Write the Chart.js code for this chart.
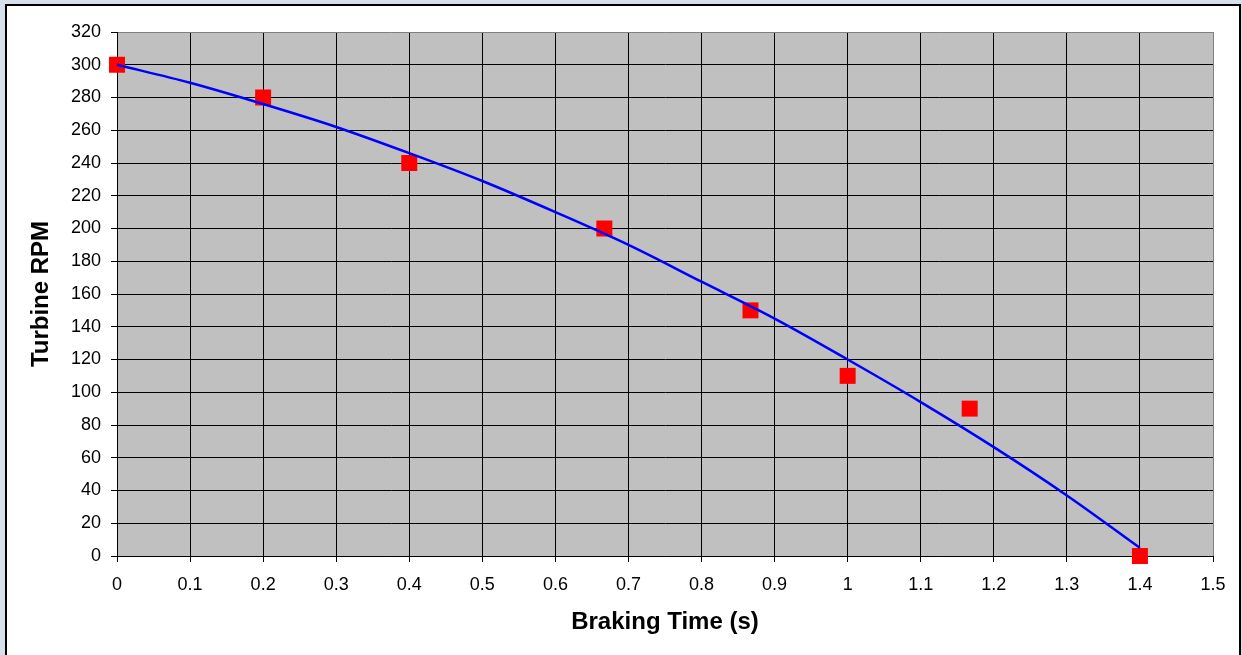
<!DOCTYPE html>
<html>
<head>
<meta charset="utf-8">
<title>Turbine RPM vs Braking Time</title>
<script src="https://cdn.jsdelivr.net/npm/chart.js@4/dist/chart.umd.min.js"></script>
<style>
  html, body { margin: 0; padding: 0; }
  body { width: 1242px; height: 655px; background: #d6dfec; position: relative; overflow: hidden; }
  #frame { position: absolute; left: 5px; top: 4px; width: 1232px; height: 700px; background: #fff; border: 2px solid #000; }
  #chart { position: absolute; left: 0; top: 0; }
</style>
</head>
<body>
<div id="frame"></div>
<canvas id="chart" width="1242" height="655"></canvas>
<script>
// trend line
const curveTime = [0, 0.1, 0.2, 0.3, 0.4, 0.5, 0.6, 0.7, 0.8, 0.9, 1.0, 1.1, 1.2, 1.3, 1.4];
const curveRpm  = [300, 289, 276, 262, 246, 229, 210, 190, 167.5, 145, 120, 94, 66.5, 37, 5];

// measured points (red squares)
const pointTime = [0, 0.2, 0.4, 0.667, 0.867, 1.0, 1.167, 1.4];
const pointRpm  = [300, 280, 240, 200, 150, 110, 90, 0];

const xTitle = "Braking Time (s)";
const yTitle = "Turbine RPM";

document.addEventListener("DOMContentLoaded", () => {
  const tickFont = { family: "'Liberation Sans', Arial, sans-serif", size: 18 };
  const titleFont = { family: "'Liberation Sans', Arial, sans-serif", size: 24, weight: 'bold' };

  // gray plot background
  const plotBg = {
    id: 'plotBg',
    beforeDraw(chart) {
      const a = chart.chartArea;
      const ctx = chart.ctx;
      ctx.save();
      ctx.fillStyle = '#C0C0C0';
      ctx.fillRect(a.left, a.top, a.right - a.left, a.bottom - a.top);
      ctx.restore();
    }
  };

  new Chart(document.getElementById('chart'), {
    type: 'scatter',
    data: {
      datasets: [
        {
          label: 'Curve',
          data: curveTime.map((t, i) => ({ x: t, y: curveRpm[i] })),
          showLine: true,
          borderColor: '#0000FF',
          borderWidth: 2.5,
          pointRadius: 0,
          cubicInterpolationMode: 'monotone',
          clip: false
        },
        {
          label: 'Measured',
          data: pointTime.map((t, i) => ({ x: t, y: pointRpm[i] })),
          showLine: false,
          pointStyle: 'rect',
          pointRadius: 11.3,
          pointBackgroundColor: '#FF0000',
          pointBorderColor: '#FF0000',
          pointBorderWidth: 0,
          clip: false
        }
      ]
    },
    options: {
      responsive: false,
      animation: false,
      layout: { padding: { left: 27, top: 32, right: 29, bottom: 18 } },
      plugins: {
        legend: { display: false },
        tooltip: { enabled: false }
      },
      scales: {
        x: {
          type: 'linear',
          min: 0,
          max: 1.5,
          afterFit: s => { s.height = 81; },
          ticks: {
            stepSize: 0.1,
            color: '#000',
            font: tickFont,
            padding: 12,
            maxRotation: 0,
            callback: v => Math.round(v * 10) / 10
          },
          grid: {
            color: c => (c.tick && Math.abs(c.tick.value - 1.5) < 1e-6) ? '#808080' : '#000',
            tickColor: '#000',
            tickLength: 6,
            lineWidth: 1
          },
          border: { color: '#000', width: 1 },
          title: { display: true, text: xTitle, color: '#000', font: titleFont, padding: 0 }
        },
        y: {
          min: 0,
          max: 320,
          afterFit: s => { s.width = 90; },
          ticks: {
            stepSize: 20,
            color: '#000',
            font: tickFont,
            padding: 10
          },
          grid: {
            color: c => (c.tick && c.tick.value === 320) ? '#808080' : '#000',
            tickColor: '#000',
            tickLength: 6,
            lineWidth: 1
          },
          border: { color: '#000', width: 1 },
          title: { display: true, text: yTitle, color: '#000', font: titleFont, padding: 0 }
        }
      }
    },
    plugins: [plotBg]
  });
});
</script>
</body>
</html>
